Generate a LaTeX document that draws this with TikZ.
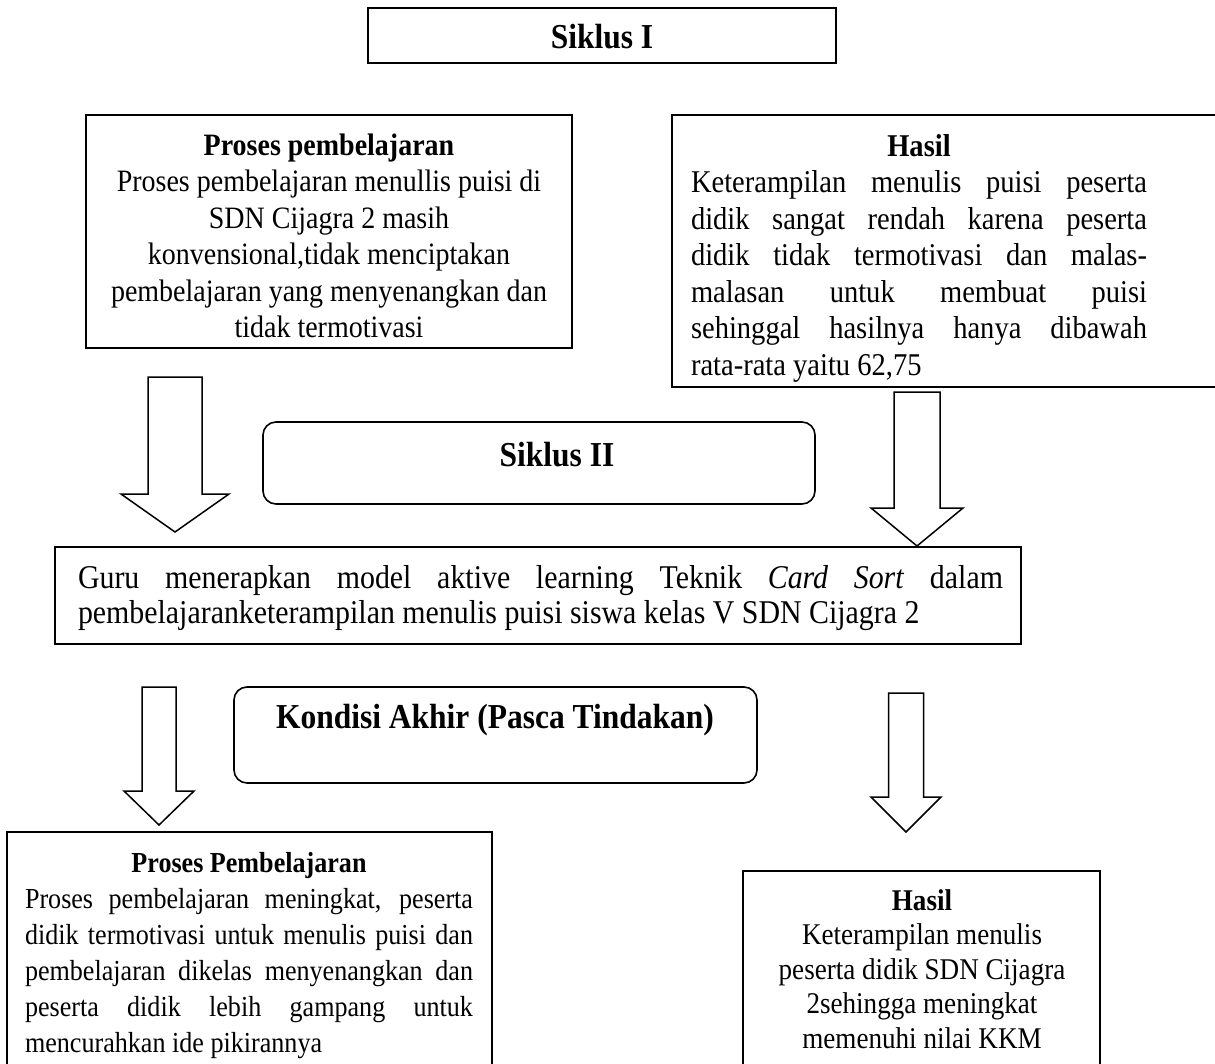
\documentclass[tikz,border=0pt]{standalone}
\usepackage{fontspec}
\setmainfont[FakeStretch=0.9]{Liberation Serif}
\newcommand{\downblock}[6]{%
  \draw[blockarrow] (#1-#2,#4) -- (#1+#2,#4) -- (#1+#2,#5) -- (#1+#3,#5)
    -- (#1,#6) -- (#1-#3,#5) -- (#1-#2,#5) -- cycle;}
\newcommand{\jline}[1]{\makebox[\hsize][s]{\spaceskip=0pt\xspaceskip=0pt\relax #1}}
\newcommand{\ctrline}[1]{\makebox[\hsize][c]{\spaceskip=0pt\xspaceskip=0pt\relax #1}}
\newcommand{\lftline}[1]{\makebox[\hsize][l]{\spaceskip=0pt\xspaceskip=0pt\relax #1}}
\tikzset{
  box/.style={draw, line width=1.6pt, inner sep=0pt},
  rbox/.style={box, rounded corners=13pt},
  blockarrow/.style={draw, line width=1.5pt, line join=miter, fill=white},
  lbl/.style={inner sep=0pt, font=\fontsize{35}{40}\selectfont\bfseries},
  txt/.style={inner sep=0pt, anchor=north}
}
\begin{document}
\begin{tikzpicture}[x=1pt,y=-1pt]
\clip (0,0) rectangle (1215,1064);
\fill[white] (0,0) rectangle (1215,1064);
% boxes
\node[box, minimum width=468, minimum height=55] (s1) at (602,35.5) {};
\node[box, minimum width=486, minimum height=233] (p1) at (329,231.5) {};
\node[box, minimum width=568, minimum height=272] (h1) at (956,251) {};
\node[rbox, minimum width=552, minimum height=82] (s2) at (539,463) {};
\node[box, minimum width=966, minimum height=97] (g) at (538,595.5) {};
\node[rbox, minimum width=523, minimum height=96] (k) at (495.5,735) {};
\node[box, minimum width=485, minimum height=268] (p2) at (249.5,966) {};
\node[box, minimum width=357, minimum height=229] (h2) at (921.5,985.5) {};
% labels
\node[lbl, anchor=base] (s1t) at (602,49) {Siklus I};
\node[lbl, anchor=base] (s2t) at (557,466) {Siklus II};
\node[lbl, anchor=base] (kt) at (495,728) {Kondisi Akhir (Pasca Tindakan)};
% texts
\node[txt, text width=480pt, align=left, font=\fontsize{31.1}{36.5}\selectfont] (p1t) at (329,129.5)
  {\strut\ctrline{\bfseries Proses pembelajaran}\\
   \ctrline{Proses pembelajaran menullis puisi di}\\
   \ctrline{SDN Cijagra 2 masih}\\
   \ctrline{konvensional,tidak menciptakan}\\
   \ctrline{pembelajaran yang menyenangkan dan}\\
   \ctrline{tidak termotivasi}};
\node[txt, text width=456pt, align=left, font=\fontsize{31.7}{36.5}\selectfont] (h1t) at (919,130.5)
  {\strut\ctrline{\bfseries Hasil}\\
   \jline{Keterampilan menulis puisi peserta}\\
   \jline{didik sangat rendah karena peserta}\\
   \jline{didik tidak termotivasi dan malas-}\\
   \jline{malasan untuk membuat puisi}\\
   \jline{sehinggal hasilnya hanya dibawah}\\
   \lftline{rata-rata yaitu 62,75}};
\node[txt, text width=925pt, align=left, font=\fontsize{33.2}{35}\selectfont] (gt) at (540.5,563.5)
  {\strut\jline{Guru menerapkan model aktive learning Teknik \textit{Card Sort} dalam}\\
   \lftline{pembelajaranketerampilan menulis puisi siswa kelas V SDN Cijagra 2}};
\node[txt, text width=448pt, align=left, font=\fontsize{29}{36}\selectfont] (p2t) at (249,847.5)
  {\strut\ctrline{\bfseries Proses Pembelajaran}\\
   \jline{Proses pembelajaran meningkat, peserta}\\
   \jline{didik termotivasi untuk menulis puisi dan}\\
   \jline{pembelajaran dikelas menyenangkan dan}\\
   \jline{peserta didik lebih gampang untuk}\\
   \lftline{mencurahkan ide pikirannya}};
\node[txt, text width=350pt, align=left, font=\fontsize{30.1}{34.5}\selectfont] (h2t) at (922,885.9)
  {\strut\ctrline{\bfseries Hasil}\\
   \ctrline{Keterampilan menulis}\\
   \ctrline{peserta didik SDN Cijagra}\\
   \ctrline{2sehingga meningkat}\\
   \ctrline{memenuhi nilai KKM}};
% block arrows
\downblock{175}{27}{54}{377}{494}{532}
\downblock{917}{23}{46}{392}{508}{546}
\downblock{159}{17}{35}{687}{791}{825}
\downblock{906}{17.5}{35}{693}{797}{832}
\end{tikzpicture}
\end{document}
